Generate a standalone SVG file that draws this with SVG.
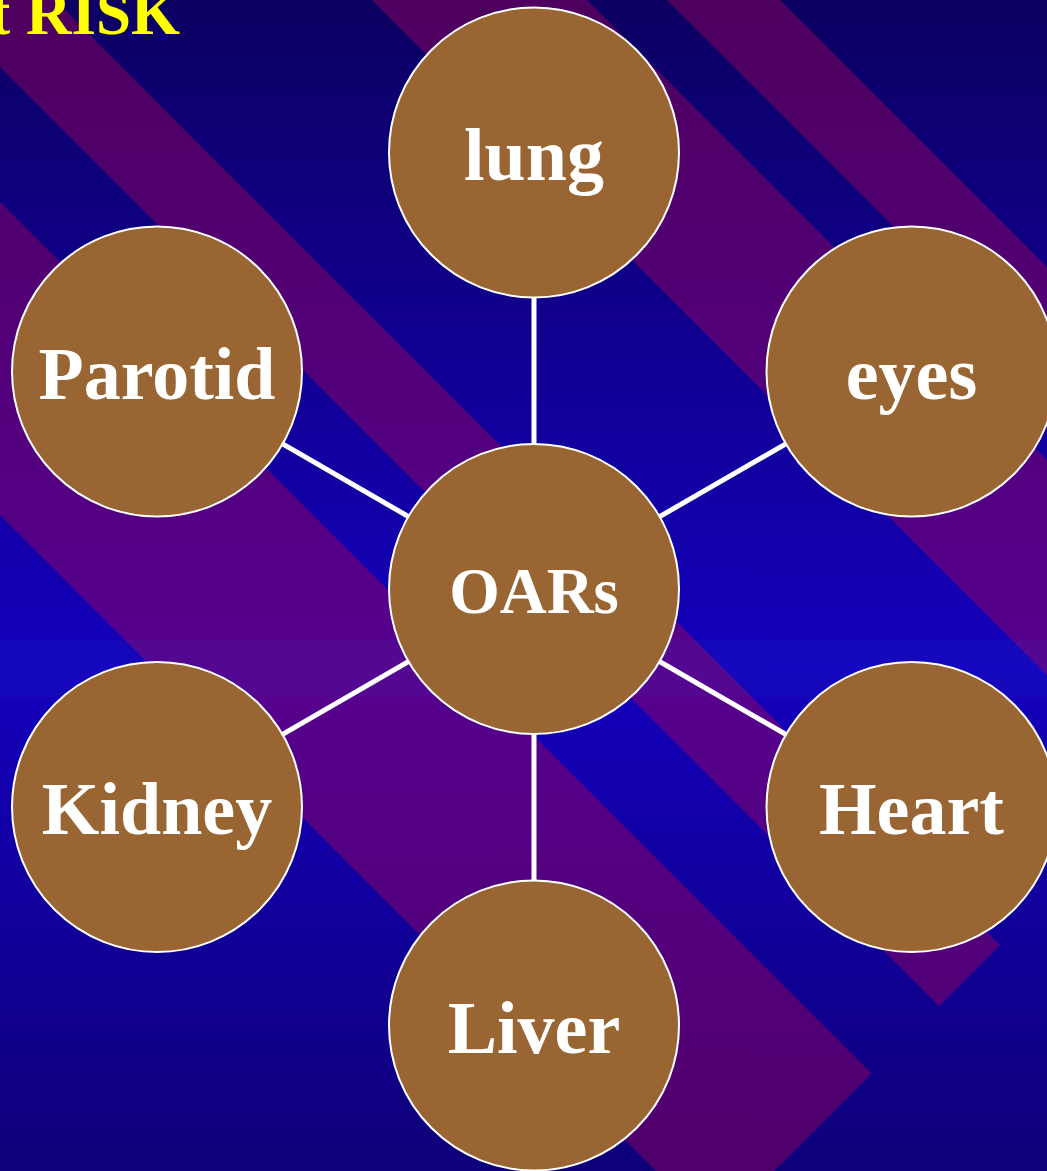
<svg xmlns="http://www.w3.org/2000/svg" width="1047" height="1171" viewBox="0 0 1047 1171">
  <style>
    .node circle { fill: #996633; stroke: #ffffff; stroke-width: 2; }
    .node text { font-family: "Liberation Serif", "Times New Roman", serif; font-weight: bold; font-size: 74px; fill: #ffffff; text-anchor: middle; }
    #connectors line { stroke: #ffffff; stroke-width: 5; }
    .stripe { fill: url(#stripeGrad); }
    .title { font-family: "Liberation Serif", "Times New Roman", serif; font-weight: bold; font-size: 63px; fill: #ffff00; text-anchor: end; }
  </style>
  <defs>
    <linearGradient id="bgGrad" gradientUnits="userSpaceOnUse" x1="0" y1="0" x2="0" y2="1336">
      <stop offset="0" stop-color="#0c0062"/>
      <stop offset="0.5" stop-color="#1400bc"/>
      <stop offset="1" stop-color="#0c0062"/>
    </linearGradient>
    <linearGradient id="stripeGrad" gradientUnits="userSpaceOnUse" x1="0" y1="0" x2="0" y2="1336">
      <stop offset="0" stop-color="#4e005e"/>
      <stop offset="0.5" stop-color="#56008f"/>
      <stop offset="1" stop-color="#4e005e"/>
    </linearGradient>
  </defs>

  <g id="background">
    <rect x="0" y="0" width="1047" height="1171" fill="url(#bgGrad)"/>
    <polygon class="stripe" points="-1300,-2080 1362.5,582.5 1306,639 -1300,-1967"/>
    <polygon class="stripe" points="-1300,-1887 1266,679 1158.5,786.5 -1300,-1672"/>
    <polygon class="stripe" points="-1300,-1355 1000,945 939,1006 -1300,-1233"/>
    <polygon class="stripe" points="-1300,-1098 871.5,1073.5 715,1230 -1300,-785"/>
    <rect x="0" y="640" width="1047" height="57" fill="#40e0ff" opacity="0.035"/>
  </g>

  <text class="title" x="180" y="34">t RISK</text>

  <g id="connectors">
    <line x1="534" y1="589" x2="534" y2="152.5"/>
    <line x1="534" y1="589" x2="157" y2="371.5"/>
    <line x1="534" y1="589" x2="911.5" y2="371.5"/>
    <line x1="534" y1="589" x2="157" y2="807"/>
    <line x1="534" y1="589" x2="911.5" y2="807"/>
    <line x1="534" y1="589" x2="534" y2="1025.5"/>
  </g>

  <g id="node-lung" class="node">
    <circle cx="534" cy="152.5" r="145"/>
    <text x="534" y="180">lung</text>
  </g>
  <g id="node-parotid" class="node">
    <circle cx="157" cy="371.5" r="145"/>
    <text x="157" y="399">Parotid</text>
  </g>
  <g id="node-eyes" class="node">
    <circle cx="911.5" cy="371.5" r="145"/>
    <text x="911.5" y="399">eyes</text>
  </g>
  <g id="node-oars" class="node">
    <circle cx="534" cy="589" r="145"/>
    <text x="534" y="613" style="font-size:65px">OARs</text>
  </g>
  <g id="node-kidney" class="node">
    <circle cx="157" cy="807" r="145"/>
    <text x="157" y="834">Kidney</text>
  </g>
  <g id="node-heart" class="node">
    <circle cx="911.5" cy="807" r="145"/>
    <text x="911.5" y="834">Heart</text>
  </g>
  <g id="node-liver" class="node">
    <circle cx="534" cy="1025.5" r="145"/>
    <text x="534" y="1053">Liver</text>
  </g>
</svg>
